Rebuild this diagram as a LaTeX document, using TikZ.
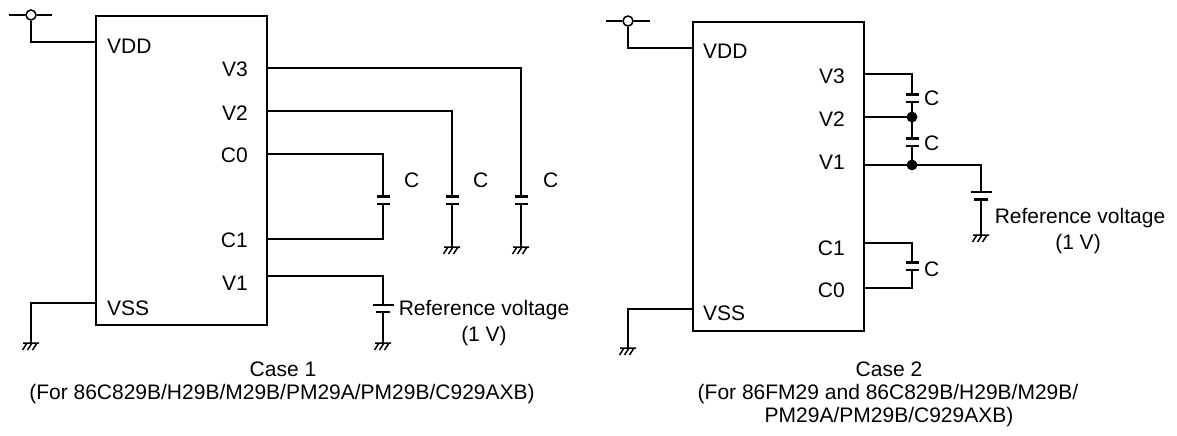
\documentclass[tikz,border=0pt]{standalone}
\usepackage{fontspec}
\setmainfont{Liberation Sans}
\begin{document}
\begin{tikzpicture}[x=1pt,y=-1pt,
  wire/.style={line width=1.5pt},
  chip/.style={draw, line width=2pt, minimum width=171pt, minimum height=309pt, anchor=north west, inner sep=0pt},
  lbl/.style={inner sep=0pt, font=\fontsize{21}{27}\selectfont},
  supply/.style={circle, draw, fill=white, line width=1.5pt, minimum size=10pt, inner sep=0pt},
  capacitor/.pic={\fill[white] (-9,-3.8) rectangle (9,3.8);
    \draw[line width=2.6pt] (-6.5,-3.8)--(6.5,-3.8) (-6.5,3.8)--(6.5,3.8);},
  battery/.pic={\fill[white] (-11,-3.5) rectangle (11,3.5);
    \draw[line width=1.5pt] (-10.5,-3.5)--(10.5,-3.5);
    \draw[line width=2.8pt] (-7,3.5)--(7,3.5);},
  gnd/.pic={\draw[line width=1.5pt] (-8,0)--(8,0) (-4,0)--(-8.5,7) (1,0)--(-3.5,7) (6,0)--(1.5,7);},
  dot/.style={circle, fill, minimum size=10.5pt, inner sep=0pt}
]
\useasboundingbox (0,0) rectangle (1177,436);

% ================= Case 1 =================
\node[chip] (icA) at (95,15) {};
\node[supply] (vddA) at (31,15) {};
\draw[wire] (9,15) -- (vddA.west) (vddA.east) -- (52,15);
\draw[wire] (vddA.south) |- (icA.west |- 0,42);

\coordinate (gA3) at (521,247);
\coordinate (gA2) at (452,247);
\coordinate (cA0) at (383,239);
\coordinate (gAr) at (383,343);
\coordinate (gAs) at (31,343);

\draw[wire] (icA.east |- 0,68) -| (gA3);
\draw[wire] (icA.east |- 0,111) -| (gA2);
\draw[wire] (icA.east |- 0,154) -| (cA0) -- (icA.east |- cA0);
\draw[wire] (icA.east |- 0,276) -| (gAr);
\draw[wire] (icA.west |- 0,303) -| (gAs);

\pic at (521,200) {capacitor};
\pic at (452,200) {capacitor};
\pic at (383,200) {capacitor};
\pic at (383,308.5) {battery};
\pic at (gA3) {gnd};
\pic at (gA2) {gnd};
\pic at (gAr) {gnd};
\pic at (gAs) {gnd};

\node[lbl, anchor=base west] (tA-vdd) at (107,53) {VDD};
\node[lbl, anchor=base east] (tA-v3) at (248,77) {V3};
\node[lbl, anchor=base east] (tA-v2) at (248,120) {V2};
\node[lbl, anchor=base east] (tA-c0) at (248,162) {C0};
\node[lbl, anchor=base east] (tA-c1) at (248,247) {C1};
\node[lbl, anchor=base east] (tA-v1) at (248,290) {V1};
\node[lbl, anchor=base west] (tA-vss) at (107,315) {VSS};
\node[lbl, anchor=base west] (tA-ca) at (404,187) {C};
\node[lbl, anchor=base west] (tA-cb) at (473,187) {C};
\node[lbl, anchor=base west] (tA-cc) at (543,187) {C};
\node[lbl, anchor=base] (tA-ref1) at (484,315) {Reference voltage};
\node[lbl, anchor=base] (tA-ref2) at (484,341) {(1 V)};
\node[lbl, anchor=base] (tA-cap1) at (283,376) {Case 1};
\node[lbl, anchor=base] (tA-cap2) at (282,399) {(For 86C829B/H29B/M29B/PM29A/PM29B/C929AXB)};

% ================= Case 2 =================
\node[chip] (icB) at (692,21) {};
\node[supply] (vddB) at (628,21) {};
\draw[wire] (606,21) -- (vddB.west) (vddB.east) -- (650,21);
\draw[wire] (vddB.south) |- (icB.west |- 0,48);

\node[dot] (dB2) at (912,117) {};
\node[dot] (dB1) at (912,165) {};
\coordinate (gBr) at (981,235);
\coordinate (cB0) at (912,288);
\coordinate (gBs) at (628,348);

\draw[wire] (icB.east |- 0,74) -| (dB2.center);
\draw[wire] (icB.east |- dB2) -- (dB2.center) -- (dB1.center);
\draw[wire] (icB.east |- dB1) -- (dB1.center) -| (gBr);
\draw[wire] (icB.east |- 0,243) -| (cB0) -- (icB.east |- cB0);
\draw[wire] (icB.west |- 0,309) -| (gBs);

\pic at (912,98) {capacitor};
\pic at (912,142) {capacitor};
\pic at (912,266) {capacitor};
\pic at (981,195.7) {battery};
\pic at (gBr) {gnd};
\pic at (gBs) {gnd};
\node[dot] at (dB2) {};
\node[dot] at (dB1) {};

\node[lbl, anchor=base west] (tB-vdd) at (703,59) {VDD};
\node[lbl, anchor=base east] (tB-v3) at (845,83) {V3};
\node[lbl, anchor=base east] (tB-v2) at (845,126) {V2};
\node[lbl, anchor=base east] (tB-v1) at (845,169) {V1};
\node[lbl, anchor=base east] (tB-c1) at (845,255) {C1};
\node[lbl, anchor=base east] (tB-c0) at (845,297) {C0};
\node[lbl, anchor=base west] (tB-vss) at (703,320) {VSS};
\node[lbl, anchor=base west] (tB-ca) at (924,105) {C};
\node[lbl, anchor=base west] (tB-cb) at (924,150) {C};
\node[lbl, anchor=base west] (tB-cc) at (924,276) {C};
\node[lbl, anchor=base] (tB-ref1) at (1080,223) {Reference voltage};
\node[lbl, anchor=base] (tB-ref2) at (1078,249) {(1 V)};
\node[lbl, anchor=base] (tB-cap1) at (889,376) {Case 2};
\node[lbl, anchor=base] (tB-cap2) at (888,399) {(For 86FM29 and 86C829B/H29B/M29B/};
\node[lbl, anchor=base] (tB-cap3) at (889,422) {PM29A/PM29B/C929AXB)};
\end{tikzpicture}
\end{document}
